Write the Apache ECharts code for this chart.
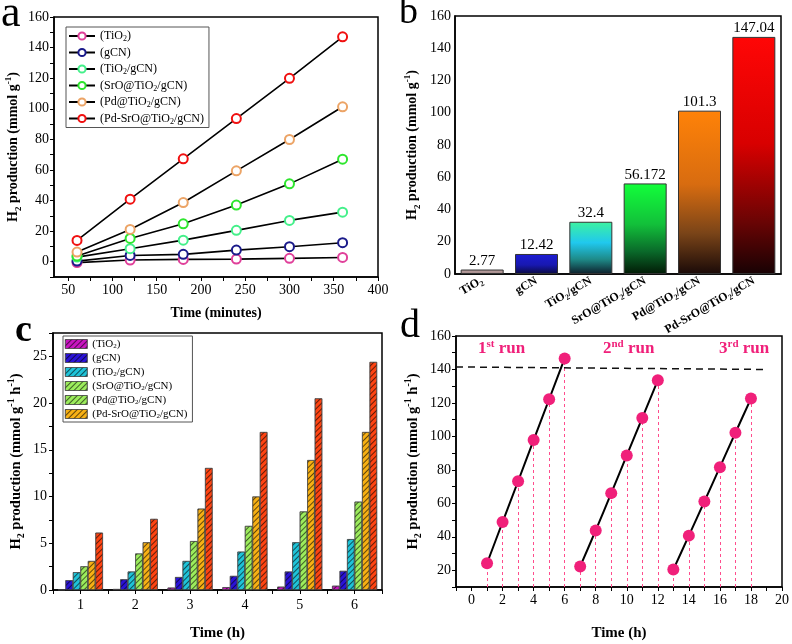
<!DOCTYPE html>
<html><head><meta charset="utf-8">
<script src="https://cdn.jsdelivr.net/npm/echarts@6/dist/echarts.min.js"></script>
<style>html,body{margin:0;padding:0;background:#fff}#c{width:792px;height:644px}</style>
</head><body><div id="c"></div>
<script>
const FONT = '"Liberation Serif","Times New Roman",Times,serif';

// ---------- Panel a data ----------
const aTime = [60, 120, 180, 240, 300, 360];
const aNames = ['(TiO_2)', '(gCN)', '(TiO_2/gCN)', '(SrO@TiO_2/gCN)', '(Pd@TiO_2/gCN)', '(Pd-SrO@TiO_2/gCN)'];
const aTiO2 = [-0.6, 1.1, 1.5, 1.7, 2.2, 2.77];
const aGCN = [0.4, 4.1, 4.8, 7.6, 9.8, 12.42];
const aTiO2gCN = [3.0, 8.5, 14.1, 20.5, 27.0, 32.4];
const aSrO = [3.7, 15.2, 24.8, 37.0, 50.9, 67.0];
const aPd = [6.3, 21.1, 38.7, 59.4, 79.9, 101.3];
const aPdSrO = [13.9, 40.9, 67.3, 93.6, 119.9, 147.04];
const aXTicks = [50, 100, 150, 200, 250, 300, 350, 400];

// ---------- Panel b data ----------
const bCategories = ['TiO_2', 'gCN', 'TiO_2/gCN', 'SrO@TiO_2/gCN', 'Pd@TiO_2/gCN', 'Pd-SrO@TiO_2/gCN'];
const bValues = [2.77, 12.42, 32.4, 56.172, 101.3, 147.04];
const bLabels = ['2.77', '12.42', '32.4', '56.172', '101.3', '147.04'];

// ---------- Panel c data ----------
const cHours = ['1', '2', '3', '4', '5', '6'];
const cNames = ['(TiO_2)', '(gCN)', '(TiO_2/gCN)', '(SrO@TiO_2/gCN)', '(Pd@TiO_2/gCN)', '(Pd-SrO@TiO_2/gCN)'];
const cTiO2 = [0.05, 0.1, 0.25, 0.3, 0.35, 0.45];
const cGCN = [1.04, 1.14, 1.38, 1.5, 1.97, 2.04];
const cTiO2gCN = [1.9, 1.97, 3.1, 4.1, 5.1, 5.44];
const cSrO = [2.53, 3.9, 5.23, 6.85, 8.4, 9.45];
const cPd = [3.1, 5.1, 8.7, 10.0, 13.9, 16.9];
const cPdSrO = [6.13, 7.6, 13.05, 16.9, 20.5, 24.4];

// ---------- Panel d data ----------
const dRun1Hours = [1, 2, 3, 4, 5, 6];
const dRun1 = [24.2, 48.8, 73.2, 97.8, 122.2, 146.6];
const dRun2Hours = [7, 8, 9, 10, 11, 12];
const dRun2 = [22.3, 43.8, 66.1, 88.6, 111.0, 133.5];
const dRun3Hours = [13, 14, 15, 16, 17, 18];
const dRun3 = [20.4, 40.7, 61.1, 81.6, 102.2, 122.6];
const dRefLineX = [-1, 18.9];
const dRefLineY = [141.5, 140];
const dRunLabels = ['1^st run', '2^nd run', '3^rd run'];

// ---------- styles ----------
const aColors = ['#e0409a', '#1a1a8a', '#44f08a', '#2ee62e', '#eca466', '#f01010'];
const cColors = ['#c814c0', '#2a12d6', '#1fc3d8', '#9cec5c', '#f7b014', '#ff4412'];
const cLegendColors = ['#c814c0', '#2a12d6', '#1fc3d8', '#9cec5c', '#9cec5c', '#f7b014'];
const bGrad = [
  [['#c0a4a4', 0], ['#a08888', 1]],
  [['#1c1cd4', 0], ['#1818b0', 0.55], ['#0a0a40', 1]],
  [['#3cf3a0', 0], ['#20c8ee', 0.4], ['#1e8a88', 0.72], ['#0e1e2a', 1]],
  [['#12ff3a', 0], ['#12c03a', 0.45], ['#0a6a2a', 0.75], ['#021a06', 1]],
  [['#ff8208', 0], ['#d86c10', 0.45], ['#7a4418', 0.75], ['#1a0a08', 1]],
  [['#ff0606', 0], ['#d80000', 0.45], ['#6a0404', 0.78], ['#180204', 1]]
];
const PINK = '#f0207a';
const HATCH = { symbol: 'rect', symbolSize: 1, dashArrayX: [1, 0], dashArrayY: [1, 2.2], rotation: -Math.PI / 4, color: 'rgba(0,0,0,0.6)' };

function rt(s) {
  return s.replace(/_(\d+)/g, '{sub|$1}').replace(/\^([-\w]+)/g, '{sup|$1}');
}
function rich(size, weight, color) {
  const s = Math.round(size * 0.66);
  return {
    sub: { fontSize: s, fontFamily: FONT, fontWeight: weight, color: color || '#000', verticalAlign: 'bottom', lineHeight: s + 1 },
    sup: { fontSize: s, fontFamily: FONT, fontWeight: weight, color: color || '#000', verticalAlign: 'top', lineHeight: s + 1 }
  };
}
function nameStyle(size) {
  return { fontFamily: FONT, fontSize: size, fontWeight: 'bold', color: '#000', lineHeight: size + 5, rich: rich(size, 'bold') };
}
function valueAxis(o) {
  return Object.assign({
    type: 'value',
    axisLine: { show: true, onZero: false, lineStyle: { color: '#000', width: 1.5 } },
    axisTick: { show: true, inside: false, length: 4, lineStyle: { color: '#000', width: 1 } },
    splitLine: { show: false },
    axisLabel: { color: '#000', fontFamily: FONT, fontSize: 14, margin: 5 },
    nameLocation: 'middle'
  }, o);
}
const gridBox = { show: true, borderColor: '#000', borderWidth: 1.5, backgroundColor: 'transparent' };

const series = [];

// ---- a ----
[aTiO2, aGCN, aTiO2gCN, aSrO, aPd, aPdSrO].forEach((d, i) => {
  series.push({
    type: 'line', name: aNames[i], xAxisIndex: 0, yAxisIndex: 0,
    data: aTime.map((t, j) => [t, d[j]]),
    symbol: 'circle', symbolSize: 9,
    lineStyle: { color: '#000', width: 1.6 },
    itemStyle: { color: '#fff', borderColor: aColors[i], borderWidth: 2 },
    z: 2 + i
  });
});

// ---- b ----
series.push({
  type: 'bar', xAxisIndex: 1, yAxisIndex: 1, barWidth: 43,
  data: bValues.map((v, i) => ({
    value: v,
    itemStyle: { color: new echarts.graphic.LinearGradient(0, 0, 0, 1, bGrad[i].map(s => ({ color: s[0], offset: s[1] }))) }
  })),
  itemStyle: { borderColor: '#333', borderWidth: 1 },
  label: { show: true, position: 'top', distance: 1, formatter: p => bLabels[p.dataIndex], fontFamily: FONT, fontSize: 15, color: '#000' }
});

// ---- c ----
[cTiO2, cGCN, cTiO2gCN, cSrO, cPd, cPdSrO].forEach((d, i) => {
  series.push({
    type: 'bar', name: cNames[i], xAxisIndex: 2, yAxisIndex: 2,
    data: d, barGap: '0%', barCategoryGap: '18%',
    itemStyle: { color: cColors[i], borderColor: '#444', borderWidth: 0.6, decal: HATCH }
  });
});

// ---- d ----
[[dRun1Hours, dRun1], [dRun2Hours, dRun2], [dRun3Hours, dRun3]].forEach((r, k) => {
  const pts = r[0].map((h, j) => [h, r[1][j]]);
  const ml = pts.map(p => [{ coord: [p[0], 10] }, { coord: [p[0], p[1]] }]);
  if (k === 0) ml.push([{ coord: [dRefLineX[0], dRefLineY[0]], lineStyle: { color: '#111', type: [7, 5], width: 1.5 } },
                       { coord: [dRefLineX[1], dRefLineY[1]] }]);
  series.push({
    type: 'line', xAxisIndex: 4, yAxisIndex: 3, data: pts, smooth: 0.25,
    symbol: 'circle', symbolSize: 12,
    lineStyle: { color: '#000', width: 2 },
    itemStyle: { color: PINK },
    z: 5,
    markLine: {
      silent: true, symbol: 'none', label: { show: false },
      lineStyle: { color: '#ff4d8d', type: [3, 3], width: 1 },
      data: ml, z: 1
    }
  });
});

const option = {
  animation: false,
  backgroundColor: '#fff',
  grid: [
    Object.assign({ left: 54, top: 17, width: 324, height: 260 }, gridBox),
    Object.assign({ left: 455, top: 16, width: 326, height: 258 }, gridBox),
    Object.assign({ left: 53, top: 333, width: 329, height: 265 }, gridBox),
    Object.assign({ left: 456, top: 336, width: 327, height: 260 }, gridBox)
  ],
  xAxis: [
    valueAxis({ gridIndex: 0, min: 34, max: 400,
      axisLabel: { customValues: aXTicks, color: '#000', fontFamily: FONT, fontSize: 14, margin: 6 },
      axisTick: { customValues: [50, 75, 100, 125, 150, 175, 200, 225, 250, 275, 300, 325, 350, 375, 400], length: 4, lineStyle: { color: '#000' } },
      name: 'Time (minutes)', nameGap: 27, nameTextStyle: nameStyle(14) }),
    { type: 'category', gridIndex: 1, data: bCategories,
      axisLine: { lineStyle: { color: '#000', width: 1.5 } },
      axisTick: { alignWithLabel: true, length: 4, lineStyle: { color: '#000' } },
      axisLabel: { interval: 0, rotate: 30, margin: 6, formatter: v => rt(v), fontFamily: FONT, fontWeight: 'bold', fontSize: 12, color: '#000', lineHeight: 15, rich: rich(12, 'bold') } },
    { type: 'category', gridIndex: 2, data: cHours,
      axisLine: { lineStyle: { color: '#000', width: 1.5 } },
      axisTick: { show: false },
      axisLabel: { color: '#000', fontFamily: FONT, fontSize: 14, margin: 8 },
      name: 'Time (h)', nameLocation: 'middle', nameGap: 33, nameTextStyle: nameStyle(15) },
    { type: 'value', gridIndex: 2, min: 0.5, max: 6.5, interval: 0.5, position: 'bottom',
      axisLine: { show: false }, splitLine: { show: false }, axisLabel: { show: false },
      axisTick: { show: true, length: 4, lineStyle: { color: '#000' } } },
    valueAxis({ gridIndex: 3, min: -1, max: 20, interval: 1,
      axisLabel: { color: '#000', fontFamily: FONT, fontSize: 14, margin: 6, formatter: v => (v >= 0 && v % 2 === 0) ? String(v) : '' },
      name: 'Time (h)', nameGap: 36, nameTextStyle: nameStyle(15) })
  ],
  yAxis: [
    valueAxis({ gridIndex: 0, min: -10, max: 160, interval: 10,
      axisLabel: { color: '#000', fontFamily: FONT, fontSize: 14, margin: 5, formatter: v => (v >= 0 && v % 20 === 0) ? String(v) : '' },
      name: rt('H_2 production (mmol g^-1)'), nameGap: 31, nameTextStyle: nameStyle(14) }),
    valueAxis({ gridIndex: 1, min: 0, max: 160, interval: 10,
      axisTick: { length: 2, lineStyle: { color: '#000' } },
      axisLabel: { color: '#000', fontFamily: FONT, fontSize: 14, margin: 4, formatter: v => (v % 20 === 0) ? String(v) : '' },
      name: rt('H_2 production (mmol g^-1)'), nameGap: 33, nameTextStyle: nameStyle(14) }),
    valueAxis({ gridIndex: 2, min: 0, max: 27.5, interval: 2.5,
      axisLabel: { color: '#000', fontFamily: FONT, fontSize: 14, margin: 6, formatter: v => (v % 5 === 0) ? String(v) : '' },
      name: rt('H_2 production (mmol g^-1 h^-1)'), nameGap: 27, nameTextStyle: nameStyle(14.5) }),
    valueAxis({ gridIndex: 3, min: 10, max: 160, interval: 10,
      axisLabel: { color: '#000', fontFamily: FONT, fontSize: 14, margin: 5, formatter: v => (v % 20 === 0) ? String(v) : '' },
      name: rt('H_2 production (mmol g^-1 h^-1)'), nameGap: 33, nameTextStyle: nameStyle(14.5) })
  ],
  legend: [
    { orient: 'vertical', left: 66, top: 27, data: aNames,
      itemWidth: 26, itemHeight: 9, itemGap: 2.5, padding: [2, 5, 2, 2],
      borderColor: '#555', borderWidth: 1, backgroundColor: '#fff',
      formatter: n => rt(n),
      textStyle: { fontFamily: FONT, fontSize: 12, color: '#000', lineHeight: 14, rich: rich(12, 'normal') } },
    { orient: 'vertical', left: 63, top: 336, icon: 'rect',
      data: cNames.map((n, i) => ({ name: n, icon: 'rect', itemStyle: { color: cLegendColors[i], borderColor: '#444', borderWidth: 0.6, decal: HATCH } })),
      itemWidth: 22, itemHeight: 9, itemGap: 2, padding: [2, 5, 2, 2],
      borderColor: '#555', borderWidth: 1, backgroundColor: '#fff',
      formatter: n => rt(n),
      textStyle: { fontFamily: FONT, fontSize: 11, color: '#000', lineHeight: 12, rich: rich(11, 'normal') } }
  ],
  graphic: [
    { type: 'text', left: 1, top: -8, style: { text: 'a', font: '44px ' + FONT, fill: '#000' } },
    { type: 'text', left: 399, top: -6, style: { text: 'b', font: '38px ' + FONT, fill: '#000' } },
    { type: 'text', left: 15, top: 312, style: { text: 'c', font: 'bold 38px ' + FONT, fill: '#000' } },
    { type: 'text', left: 400, top: 306, style: { text: 'd', font: '40px ' + FONT, fill: '#000' } },
    { type: 'text', left: 478, top: 339, style: { text: rt(dRunLabels[0]), font: 'bold 17px ' + FONT, fill: PINK, lineHeight: 20, rich: rich(17, 'bold', PINK) } },
    { type: 'text', left: 603, top: 339, style: { text: rt(dRunLabels[1]), font: 'bold 17px ' + FONT, fill: PINK, lineHeight: 20, rich: rich(17, 'bold', PINK) } },
    { type: 'text', left: 719, top: 339, style: { text: rt(dRunLabels[2]), font: 'bold 17px ' + FONT, fill: PINK, lineHeight: 20, rich: rich(17, 'bold', PINK) } }
  ],
  series: series
};
const chart = echarts.init(document.getElementById('c'));
chart.setOption(option);
</script>
</body></html>
